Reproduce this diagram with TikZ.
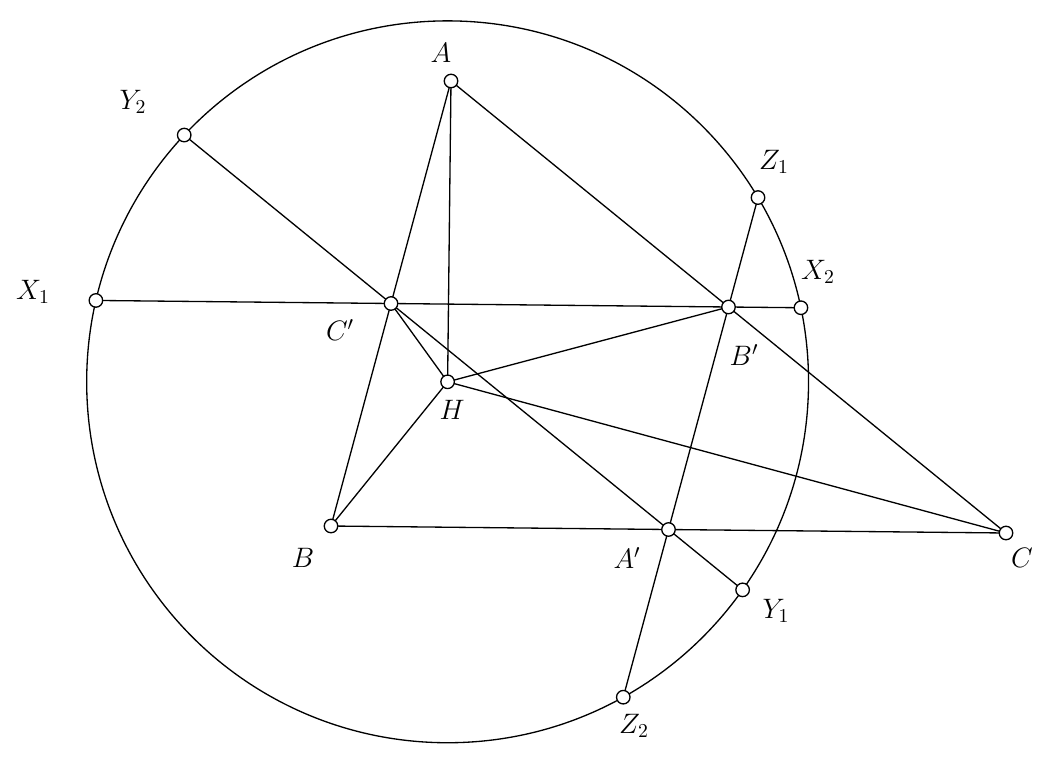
\documentclass[tikz,border=0pt]{standalone}
\usepackage{fix-cm}
\usetikzlibrary{calc,intersections}
\begin{document}
\begin{tikzpicture}[x=0.02cm,y=-0.02cm,line width=0.75pt,
  pt/.style={circle,draw,fill=white,inner sep=0pt,minimum size=0.27cm,line width=0.75pt},
  lab/.style={inner sep=0pt,font=\fontsize{16}{19}\selectfont}]
\useasboundingbox (0,0) rectangle (1054,758);
\coordinate (A) at (451,81);
\coordinate (B) at (331,526);
\coordinate (C) at (1006,533);
\coordinate (H) at (447.6,381.8);
\coordinate (Cp) at ($(A)!0.5!(B)$);
\coordinate (Bp) at ($(A)!0.5!(C)$);
\coordinate (Ap) at ($(B)!0.5!(C)$);
\draw[name path=circ] (H) circle[radius=7.22cm];
\path[name path=lx] ($(Cp)!-3!(Bp)$) -- ($(Bp)!-3!(Cp)$);
\path[name path=ly] ($(Cp)!-3!(Ap)$) -- ($(Ap)!-3!(Cp)$);
\path[name path=lz] ($(Bp)!-3!(Ap)$) -- ($(Ap)!-3!(Bp)$);
\path[name intersections={of=circ and lx,by={X1,X2},sort by=lx}];
\path[name intersections={of=circ and ly,by={Y2,Y1},sort by=ly}];
\path[name intersections={of=circ and lz,by={Z1,Z2},sort by=lz}];
\draw (X1) -- (X2);
\draw (Y2) -- (Y1);
\draw (Z1) -- (Z2);
\draw (A) -- (B) -- (C) -- cycle;
\draw (A) -- (H);
\draw (B) -- (H);
\draw (C) -- (H);
\draw (Cp) -- (H);
\draw (Bp) -- (H);
\foreach \p in {A,B,C,H,Ap,Bp,Cp,X1,X2,Y1,Y2,Z1,Z2}
  \node[pt] (n\p) at (\p) {};
\node[lab] (lA) at (441,53) {$A$};
\node[lab] (lB) at (303,558) {$B$};
\node[lab] (lC) at (1022,558) {$C$};
\node[lab] (lH) at (452,410) {$H$};
\node[lab] (lAp) at (627,558) {$A'$};
\node[lab] (lBp) at (744,355) {$B'$};
\node[lab] (lCp) at (340,330) {$C'$};
\node[lab] (lX1) at (33,292) {$X_1$};
\node[lab] (lX2) at (818,272) {$X_2$};
\node[lab] (lY1) at (776,611) {$Y_1$};
\node[lab] (lY2) at (133,102) {$Y_2$};
\node[lab] (lZ1) at (774,162) {$Z_1$};
\node[lab] (lZ2) at (634,726) {$Z_2$};
\end{tikzpicture}
\end{document}
